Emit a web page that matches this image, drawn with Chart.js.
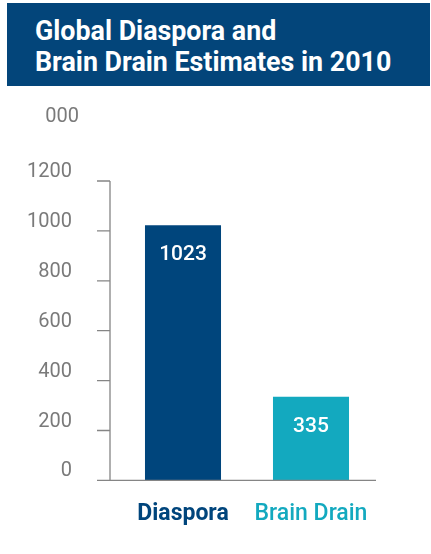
<!DOCTYPE html>
<html>
<head>
<meta charset="utf-8">
<script src="https://cdn.jsdelivr.net/npm/chart.js@4/dist/chart.umd.min.js"></script>
<style>
  html, body { margin: 0; padding: 0; background: #fff; }
  #wrap { position: relative; width: 431px; height: 554px; overflow: hidden; }
  #banner {
    position: absolute; left: 7px; top: 3px; width: 423px; height: 83px;
    background: #03457a; color: #fff;
    font-family: Roboto, sans-serif; font-weight: 700; font-size: 26.8px; line-height: 31px;
    box-sizing: border-box; padding: 13px 0 0 28px;
  }
  #unit {
    position: absolute; right: 352px; top: 103px;
    font-family: Roboto, sans-serif; font-size: 20px; color: #7a7a7a;
  }
  #chart { position: absolute; left: 0; top: 0; }
</style>
</head>
<body>
<div id="wrap">
  <canvas id="chart" width="431" height="554"></canvas>
  <div id="banner">Global Diaspora and<br>Brain Drain Estimates in 2010</div>
  <div id="unit">000</div>
</div>
<script>
(function () {
  const categories  = ['Diaspora', 'Brain Drain'];
  const values      = [1023, 335];
  const barColors   = ['#00457c', '#13a9bf'];
  const yTicks      = [0, 200, 400, 600, 800, 1000, 1200];

  const axisGrey = '#858585';

  // ── Axis line, tick marks and baseline, drawn off the scales ──
  const axisPlugin = {
    id: 'axisLines',
    afterDatasetsDraw(chart) {
      const { ctx, chartArea, scales } = chart;
      const y = scales.y;
      const axisX = chartArea.left - 9;
      const base  = y.getPixelForValue(0);
      ctx.save();
      ctx.strokeStyle = axisGrey;
      ctx.lineWidth = 1.3;
      ctx.beginPath();
      ctx.moveTo(axisX, y.getPixelForValue(1200));
      ctx.lineTo(axisX, base);
      yTicks.forEach(v => {
        const py = y.getPixelForValue(v);
        ctx.moveTo(axisX - 13, py);
        ctx.lineTo(axisX, py);
      });
      ctx.moveTo(axisX - 13, base);
      ctx.lineTo(chartArea.right + 1, base);
      ctx.stroke();
      ctx.restore();
    }
  };

  // ── Value labels inside bars ──
  const valuePlugin = {
    id: 'barValues',
    afterDatasetsDraw(chart) {
      const { ctx } = chart;
      const meta = chart.getDatasetMeta(0);
      ctx.save();
      ctx.fillStyle = '#fff';
      ctx.font = '500 21px Roboto, sans-serif';
      ctx.textAlign = 'center';
      ctx.textBaseline = 'middle';
      meta.data.forEach((bar, i) => {
        ctx.fillText(String(values[i]), bar.x, bar.y + 30);
      });
      ctx.restore();
    }
  };

  new Chart(document.getElementById('chart'), {
    type: 'bar',
    data: {
      labels: categories,
      datasets: [{
        data: values,
        backgroundColor: barColors,
        borderWidth: 0,
        barPercentage: 0.594,
        categoryPercentage: 1,
      }]
    },
    plugins: [axisPlugin, valuePlugin],
    options: {
      responsive: false,
      animation: false,
      layout: { padding: { top: 181, left: 0, right: 56, bottom: 14 } },
      plugins: { legend: { display: false }, tooltip: { enabled: false } },
      scales: {
        x: {
          grid: { display: false },
          border: { display: false },
          ticks: {
            padding: 12,
            maxRotation: 0,
            autoSkip: false,
            color: ctx => barColors[ctx.index],
            font: ctx => ({
              family: 'Roboto, sans-serif', size: 23,
              weight: ctx.index === 0 ? '700' : '500'
            }),
          },
        },
        y: {
          min: 0, max: 1200,
          grid: { display: false },
          border: { display: false },
          afterBuildTicks: s => { s.ticks = yTicks.map(v => ({ value: v })); },
          afterFit: s => { s.width = 119; },
          ticks: {
            padding: 39,
            labelOffset: -9,
            color: '#7a7a7a',
            font: { family: 'Roboto, sans-serif', size: 20 },
            callback: v => String(v),
          },
        }
      }
    }
  });
})();
</script>
</body>
</html>
